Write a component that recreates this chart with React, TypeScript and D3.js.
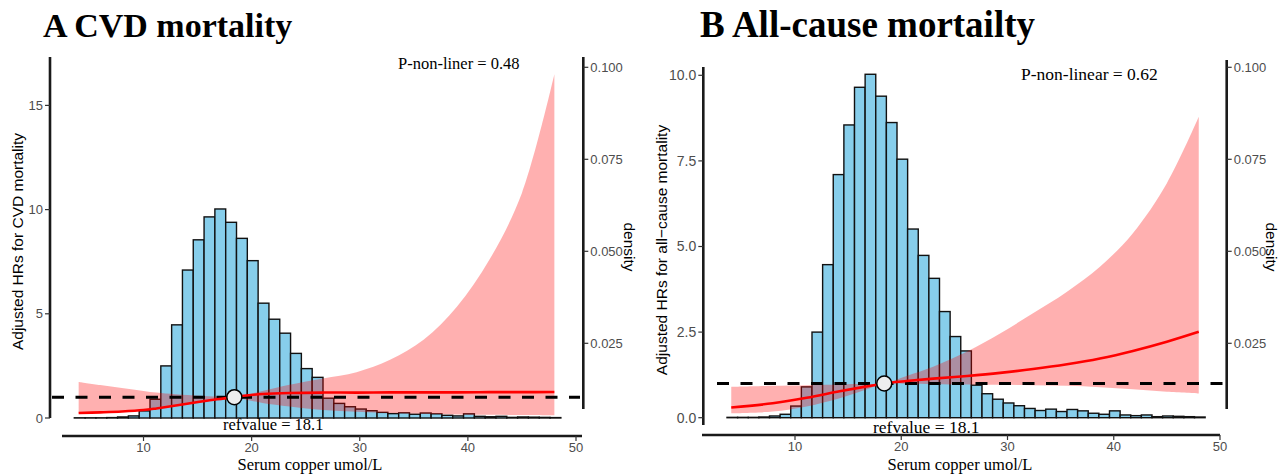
import React from "react";
import * as d3 from "d3";

// ---------------- data ----------------
const histEdges = [3.6, 4.6, 5.6, 6.6, 7.6, 8.6, 9.6, 10.6, 11.6, 12.6, 13.6, 14.6, 15.6, 16.6, 17.6, 18.6, 19.6, 20.6, 21.6, 22.6, 23.6, 24.6, 25.6, 26.6, 27.6, 28.6, 29.6, 30.6, 31.6, 32.6, 33.6, 34.6, 35.6, 36.6, 37.6, 38.6, 39.6, 40.6, 41.6, 42.6, 43.6, 44.6, 45.6, 46.6, 47.6];
const histHeights = [0.01, 0.01, 0.01, 0.02, 0.05, 0.1, 0.34, 0.9, 2.5, 4.47, 7.1, 8.55, 9.65, 10.03, 9.39, 8.62, 7.55, 5.51, 4.74, 4.07, 3.1, 2.37, 1.95, 0.95, 0.7, 0.54, 0.43, 0.35, 0.27, 0.21, 0.25, 0.18, 0.24, 0.2, 0.13, 0.1, 0.2, 0.08, 0.06, 0.08, 0.03, 0.05, 0.04, 0.03, 0.02];
const binWidth = 1;

const cvdX = [4, 6, 8, 10, 11.2, 13, 15.2, 16.8, 18.4, 19.5, 21, 23.5, 26.6, 29.7, 32.8, 35.9, 39, 42, 45, 48];
const cvdHR = [0.24, 0.27, 0.31, 0.38, 0.46, 0.6, 0.78, 0.9, 1.0, 1.08, 1.15, 1.2, 1.22, 1.22, 1.23, 1.23, 1.23, 1.24, 1.24, 1.25];
const cvdUpper = [1.73, 1.58, 1.44, 1.3, 1.22, 1.14, 1.07, 1.03, 1.0, 1.12, 1.3, 1.6, 1.9, 2.2, 2.79, 3.75, 5.35, 7.6, 10.8, 16.5];
const cvdLower = [0.22, 0.25, 0.29, 0.35, 0.43, 0.57, 0.75, 0.88, 1.0, 0.88, 0.72, 0.55, 0.38, 0.3, 0.24, 0.2, 0.17, 0.15, 0.14, 0.13];

const allX = [4, 7.9, 11.1, 14.2, 16.5, 18.4, 20.5, 23, 26.2, 29.3, 32.4, 35.6, 38.7, 41.8, 45, 48];
const allHR = [0.3, 0.42, 0.58, 0.77, 0.9, 1.0, 1.07, 1.14, 1.22, 1.31, 1.42, 1.56, 1.73, 1.95, 2.22, 2.51];
const allUpper = [0.9, 0.93, 0.95, 0.97, 0.99, 1.0, 1.22, 1.49, 1.93, 2.46, 3.05, 3.68, 4.41, 5.39, 6.85, 8.79];
const allLower = [0.13, 0.18, 0.33, 0.57, 0.8, 1.0, 0.99, 0.98, 0.97, 0.96, 0.95, 0.93, 0.89, 0.83, 0.76, 0.71];

const xTicks = [10, 20, 30, 40, 50];
const cvdYTicks = [0, 5, 10, 15];
const allYTicks = [0, 2.5, 5, 7.5, 10];
const densTicks = [0.025, 0.05, 0.075, 0.1];
const refPointX = 18.4;
const refHR = 1;

const SANS = "'Liberation Sans', Arial, Helvetica, sans-serif";
const SERIF = "'Liberation Serif', 'Times New Roman', Times, serif";

type PanelProps = {
  title: string;
  titleX: number;
  titleSize: number;
  annSize: number;
  xRange: [number, number];
  yDomain: [number, number];
  yRange: [number, number];
  yTicks: number[];
  yFmt: (v: number) => string;
  yTickSize: number;
  yAxisX: number;
  yAxisY: [number, number];
  xAxisY: number;
  xAxisX: [number, number];
  densAxisX: number;
  densAxisY: [number, number];
  yTitle: string;
  yTitleX: number;
  xTitleX: number;
  densTitleX: number;
  pText: string;
  pX: number;
  pY: number;
  refTextX: number;
  refTextY: number;
  dashX: [number, number];
  cx: number[];
  hr: number[];
  up: number[];
  lo: number[];
};

function Panel(p: PanelProps) {
  const x = d3.scaleLinear().domain([0, 50]).range(p.xRange);
  const y = d3.scaleLinear().domain(p.yDomain).range(p.yRange);
  const dens = d3.scaleLinear().domain([0.025, 0.1]).range([343.3, 67.3]);
  const pts = p.cx.map((v, i) => ({ x: v, hr: p.hr[i], up: p.up[i], lo: p.lo[i] }));
  const curve = d3.curveCatmullRom.alpha(0.5);
  const area = d3
    .area<any>()
    .x((d) => x(d.x))
    .y0((d) => y(d.lo))
    .y1((d) => y(d.up))
    .curve(curve);
  const line = d3
    .line<any>()
    .x((d) => x(d.x))
    .y((d) => y(d.hr))
    .curve(curve);
  const axisColor = "#1a1a1a";
  const tickColor = "#333";
  const labColor = "#4d4d4d";
  return (
    <g>
      <text x={p.titleX} y={37} fontFamily={SERIF} fontWeight="bold" fontSize={p.titleSize} fill="#000">
        {p.title}
      </text>
      {histEdges.map((e, i) => (
        <rect
          key={i}
          x={x(e)}
          y={y(histHeights[i])}
          width={x(e + binWidth) - x(e)}
          height={Math.max(0, y(0) - y(histHeights[i]))}
          fill="#87CEEB"
          stroke="#111"
          strokeWidth={1.4}
        />
      ))}
      <path d={area(pts) || ""} fill="#ff0000" fillOpacity={0.31} />
      <line
        x1={p.dashX[0]}
        x2={p.dashX[1]}
        y1={y(refHR)}
        y2={y(refHR)}
        stroke="#000"
        strokeWidth={3}
        strokeDasharray="12,11.5"
      />
      <path d={line(pts) || ""} fill="none" stroke="#ff0000" strokeWidth={2.6} />
      <circle cx={x(refPointX)} cy={y(refHR)} r={7.5} fill="#eeeeee" stroke="#000" strokeWidth={1.5} />
      <line x1={p.yAxisX} x2={p.yAxisX} y1={p.yAxisY[0]} y2={p.yAxisY[1]} stroke={axisColor} strokeWidth={2.6} />
      {p.yTicks.map((t) => (
        <g key={t}>
          <line x1={p.yAxisX - 5} x2={p.yAxisX} y1={y(t)} y2={y(t)} stroke={tickColor} strokeWidth={1.2} />
          <text x={p.yAxisX - 7} y={y(t)} dy="0.35em" textAnchor="end" fontFamily={SANS} fontSize={p.yTickSize} fill={labColor}>
            {p.yFmt(t)}
          </text>
        </g>
      ))}
      <text
        transform={`translate(${p.yTitleX},${(p.yAxisY[0] + p.yAxisY[1]) / 2 + 4}) rotate(-90)`}
        textAnchor="middle"
        dy="0.35em"
        fontFamily={SANS}
        fontSize={15.5}
        fill="#000"
      >
        {p.yTitle}
      </text>
      <line x1={p.xAxisX[0]} x2={p.xAxisX[1]} y1={p.xAxisY} y2={p.xAxisY} stroke={axisColor} strokeWidth={2.6} />
      {xTicks.map((t) => (
        <g key={t}>
          <line x1={x(t)} x2={x(t)} y1={p.xAxisY} y2={p.xAxisY + 5} stroke={tickColor} strokeWidth={1.2} />
          <text x={x(t)} y={p.xAxisY + 16} textAnchor="middle" fontFamily={SANS} fontSize={13} fill={labColor}>
            {t}
          </text>
        </g>
      ))}
      <text x={p.xTitleX} y={470} textAnchor="middle" fontFamily={SERIF} fontSize={16.5} fill="#000">
        Serum copper umol/L
      </text>
      <line x1={p.densAxisX} x2={p.densAxisX} y1={p.densAxisY[0]} y2={p.densAxisY[1]} stroke={axisColor} strokeWidth={2.6} />
      {densTicks.map((t) => (
        <g key={t}>
          <line x1={p.densAxisX} x2={p.densAxisX + 5} y1={dens(t)} y2={dens(t)} stroke={tickColor} strokeWidth={1.2} />
          <text x={p.densAxisX + 7} y={dens(t)} dy="0.35em" textAnchor="start" fontFamily={SANS} fontSize={13} fill={labColor}>
            {d3.format(".3f")(t)}
          </text>
        </g>
      ))}
      <text
        transform={`translate(${p.densTitleX},247) rotate(90)`}
        textAnchor="middle"
        dy="0.35em"
        fontFamily={SANS}
        fontSize={15.5}
        fill="#000"
      >
        density
      </text>
      <text x={p.pX} y={p.pY} fontFamily={SERIF} fontSize={p.annSize} fill="#000">
        {p.pText}
      </text>
      <text x={p.refTextX} y={p.refTextY} fontFamily={SERIF} fontSize={p.annSize} fill="#000">
        refvalue = 18.1
      </text>
    </g>
  );
}

export default function App() {
  return (
    <svg
      width={1285}
      height={476}
      style={{ position: "absolute", left: 0, top: 0, display: "block", background: "#fff" }}
    >
      <rect width={1285} height={476} fill="#fff" />
      <Panel
        title="A CVD mortality"
        titleX={43}
        titleSize={34}
        annSize={16.5}
        xRange={[35.4, 576]}
        yDomain={[0, 15]}
        yRange={[418, 105.4]}
        yTicks={cvdYTicks}
        yFmt={(v) => d3.format("d")(v)}
        yTickSize={13}
        yAxisX={50}
        yAxisY={[57, 418]}
        xAxisY={436}
        xAxisX={[62, 582]}
        densAxisX={583.3}
        densAxisY={[57, 409]}
        yTitle="Adjusted HRs for CVD mortality"
        yTitleX={18}
        xTitleX={310}
        densTitleX={629}
        pText="P-non-liner = 0.48"
        pX={398}
        pY={69}
        refTextX={223}
        refTextY={430}
        dashX={[52, 580]}
        cx={cvdX}
        hr={cvdHR}
        up={cvdUpper}
        lo={cvdLower}
      />
      <Panel
        title="B All-cause mortailty"
        titleX={700}
        titleSize={37}
        annSize={17.5}
        xRange={[688.75, 1220]}
        yDomain={[0, 10]}
        yRange={[417.7, 75.3]}
        yTicks={allYTicks}
        yFmt={(v) => d3.format(".1f")(v)}
        yTickSize={14}
        yAxisX={703.3}
        yAxisY={[67, 425]}
        xAxisY={435}
        xAxisX={[702, 1220]}
        densAxisX={1226.7}
        densAxisY={[60, 409]}
        yTitle="Adjusted HRs for all−cause mortality"
        yTitleX={662}
        xTitleX={960}
        densTitleX={1271}
        pText="P-non-linear = 0.62"
        pX={1021}
        pY={80}
        refTextX={873}
        refTextY={433}
        dashX={[717, 1225]}
        cx={allX}
        hr={allHR}
        up={allUpper}
        lo={allLower}
      />
    </svg>
  );
}
